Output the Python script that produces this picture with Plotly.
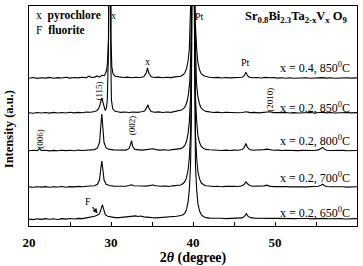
import plotly.graph_objects as go

# ---------------- data (2theta in degrees, intensity in a.u.) ----------------
sample_labels = ["x = 0.4, 850<sup>0</sup>C", "x = 0.2, 850<sup>0</sup>C", "x = 0.2, 800<sup>0</sup>C",
                 "x = 0.2, 700<sup>0</sup>C", "x = 0.2, 650<sup>0</sup>C"]
stack_offsets = [150, 114.5, 76, 39, 6.5]

two_theta_A = [20, 20.5, 21, 21.5, 22, 22.5, 23, 23.5, 24, 24.5, 25, 25.5, 26, 26.5, 27, 27.3, 27.6, 28, 28.3, 28.6,
               28.9, 29.2, 29.45, 29.55, 29.7, 29.78, 29.92, 30.0, 30.1, 30.25, 30.5, 31, 31.5, 32, 32.5, 33, 33.5,
               34, 34.3, 34.45, 34.6, 34.9, 35.3, 35.8, 36.3, 36.8, 37.3, 37.8, 38.2, 38.5, 38.8, 39, 39.2, 39.4,
               39.55, 39.7, 39.8, 39.87, 39.9, 40.1, 40.13, 40.2, 40.3, 40.45, 40.6, 40.8, 41, 41.3, 41.6, 42, 42.5,
               43, 43.5, 44, 44.5, 45, 45.5, 46, 46.25, 46.45, 46.65, 46.9, 47.3, 47.8, 48.3, 48.8, 49.3, 49.8, 50.3,
               50.8, 51.3, 51.8, 52.3, 52.8, 53.3, 53.8, 54.3, 54.8, 55.3, 55.8, 56.3, 56.8, 57.3, 57.8, 58.3, 58.8,
               59.3, 59.8, 60]
intensity_A = [0.5, 1.2, 0.3, 1, 0.6, 1.3, 0.4, 1.1, 0.7, 1.4, 0.6, 1.2, 0.8, 1.5, 1, 2.5, 1.2, 1.6, 2.8, 1.5,
               3.5, 3, 8, 14, 40, 300, 300, 40, 12, 5, 2.5, 1.8, 1.2, 1.6, 1, 1.4, 1.2,
               2, 6, 11, 6, 2, 1.2, 1.6, 1, 1.5, 1.1, 1.8, 2, 2.5, 4, 6, 10, 18,
               30, 55, 100, 250, 600, 600, 250, 100, 55, 30, 16, 9, 5, 3, 2, 1.5, 1,
               1.3, 0.7, 1.2, 0.8, 1.1, 0.9, 1.4, 3, 6.5, 3, 1.3, 0.9, 1.2, 0.7, 1.3, 0.9, 1.2, 0.6,
               1, 0.5, 0.9, 0.4, 0.8, 0.5, 0.9, 0.4, 0.8, 0.5, 1.1, 0.6, 0.9, 0.4, 0.8, 0.5, 1,
               0.6, 1.2, 0.8]

two_theta_B = [20, 20.5, 21, 21.5, 22, 22.5, 23, 23.5, 24, 24.5, 25, 25.5, 26, 26.5, 27, 27.5, 28, 28.3, 28.55,
               28.75, 28.88, 29.0, 29.15, 29.3, 29.45, 29.55, 29.68, 29.75, 29.9, 29.97, 30.05, 30.2, 30.45, 30.8,
               31.2, 31.7, 32.2, 32.7, 33.2, 33.7, 34.1, 34.35, 34.5, 34.65, 34.9, 35.3, 35.8, 36.3, 36.8, 37.3,
               37.8, 38.3, 38.6, 38.9, 39.1, 39.3, 39.45, 39.6, 39.72, 39.82, 39.88, 39.9, 40.1, 40.12, 40.18, 40.28,
               40.42, 40.58, 40.78, 41, 41.3, 41.6, 42, 42.5, 43, 43.5, 44, 44.5, 45, 45.5, 46, 46.5, 47, 47.5, 48,
               48.5, 49, 49.4, 49.8, 50.3, 50.8, 51.3, 51.8, 52.3, 52.8, 53.3, 53.8, 54.3, 54.8, 55.3, 55.8, 56.3,
               56.8, 57.3, 57.8, 58.3, 58.8, 59.3, 59.8, 60]
intensity_B = [0.8, 0.3, 1.1, 0.5, 1, 0.4, 1.2, 0.6, 1, 0.5, 1.3, 0.7, 1.2, 0.8, 1.5, 1.3, 2, 3, 6,
               12, 16, 12, 6, 3, 6, 14, 60, 400, 400, 60, 14, 5, 2.5, 1.8,
               1.2, 1.6, 1.1, 1.5, 1.2, 1.8, 2.5, 6, 9, 5, 2, 1.3, 1.7, 1.1, 1.6, 1.2,
               1.9, 2.4, 3.5, 5.5, 8, 13, 20, 32, 58, 110, 260, 600, 600, 260, 110, 58,
               32, 18, 10, 5.5, 3.2, 2.2, 1.6, 1.1, 1.4, 0.8, 1.3, 0.9, 1.2, 0.8, 1.1, 1.8, 0.9, 1.2, 0.7,
               1.1, 0.8, 1.8, 0.9, 1.1, 0.6, 1, 0.5, 0.9, 0.5, 0.9, 0.6, 1, 0.5, 0.9, 1.3, 0.7,
               1, 0.5, 0.9, 0.6, 1, 0.7, 1.1, 0.9]

two_theta_C = [20, 20.5, 21, 21.3, 21.5, 22, 22.5, 23, 23.5, 24, 24.5, 25, 25.5, 26, 26.5, 27, 27.5, 28, 28.35,
               28.6, 28.75, 28.88, 29.0, 29.15, 29.4, 29.8, 30.3, 30.8, 31.3, 31.8, 32.15, 32.35, 32.5, 32.65, 32.9,
               33.3, 33.8, 34.3, 34.8, 35.1, 35.5, 36, 36.5, 37, 37.5, 38, 38.5, 38.8, 39, 39.2, 39.4, 39.55, 39.7,
               39.8, 39.87, 39.9, 40.1, 40.13, 40.2, 40.3, 40.45, 40.6, 40.8, 41, 41.3, 41.6, 42, 42.5, 43, 43.5,
               44, 44.5, 45, 45.5, 46, 46.25, 46.45, 46.65, 46.9, 47.3, 47.8, 48.3, 48.7, 49, 49.3, 49.8, 50.3, 50.8,
               51.3, 51.8, 52.3, 52.8, 53.3, 53.8, 54.3, 54.8, 55.3, 55.6, 55.8, 56, 56.3, 56.8, 57.3, 57.8, 58.3,
               58.8, 59.3, 59.8, 60]
intensity_C = [0.6, 1.1, 0.8, 2.8, 0.9, 1.2, 0.5, 1, 0.6, 1.2, 0.7, 1.1, 0.6, 1.3, 0.9, 1.4, 1.2, 1.8, 3.5,
               9, 25, 38, 25, 9, 3.5, 2, 1.5, 1.2, 1.6, 1.3, 2.5, 6, 11, 5, 2,
               1.4, 1.3, 1.8, 2.2, 2.6, 1.8, 1.3, 1.7, 1.2, 1.8, 2, 2.8, 4.2, 6, 10, 18, 30, 55,
               100, 250, 600, 600, 250, 100, 55, 30, 16, 9, 5, 3, 2, 1.6, 1.2, 1.5, 0.9,
               1.3, 0.9, 1.3, 1.1, 1.8, 4, 8, 4, 1.8, 1.2, 1.4, 1.2, 1.8, 2.3, 1.6, 1.1, 1.3, 0.8,
               1.2, 0.8, 1.1, 0.7, 1, 0.8, 1.1, 0.9, 1.5, 2.8, 4, 2.5, 1.2, 0.9, 1.1, 0.7, 1,
               0.6, 1, 0.7, 0.9]

two_theta_D = [20, 20.5, 21, 21.5, 22, 22.5, 23, 23.5, 24, 24.5, 25, 25.5, 26, 26.5, 27, 27.5, 28, 28.35, 28.6,
               28.75, 28.88, 29.0, 29.15, 29.4, 29.8, 30.3, 30.8, 31.3, 31.8, 32.2, 32.5, 32.8, 33.3, 33.8, 34.3,
               34.8, 35.1, 35.5, 36, 36.5, 37, 37.5, 38, 38.5, 38.8, 39, 39.2, 39.4, 39.55, 39.7, 39.8, 39.87, 39.9,
               40.1, 40.13, 40.2, 40.3, 40.45, 40.6, 40.8, 41, 41.3, 41.6, 42, 42.5, 43, 43.5, 44, 44.5, 45, 45.5,
               46, 46.25, 46.45, 46.65, 46.9, 47.3, 47.8, 48.3, 48.7, 49, 49.3, 49.8, 50.3, 50.8, 51.3, 51.8, 52.3,
               52.8, 53.3, 53.8, 54.3, 54.8, 55.3, 55.6, 55.8, 56, 56.3, 56.8, 57.3, 57.8, 58.3, 58.8, 59.3, 59.8, 60]
intensity_D = [0.8, 0.4, 1, 0.6, 1.1, 0.5, 1, 0.7, 1.2, 0.5, 1.1, 0.8, 1.3, 0.9, 1.4, 1.4, 1.9, 3.5, 8,
               19, 27, 19, 8, 3.5, 2.2, 1.6, 1.4, 1.7, 1.5, 2.2, 3, 2, 1.5, 1.7, 1.6,
               2.2, 2.8, 1.9, 1.4, 1.7, 1.3, 1.9, 2.1, 2.8, 4.3, 6.2, 10, 18, 30, 55, 100, 250, 600,
               600, 250, 100, 55, 30, 16, 9, 5, 3, 2, 1.7, 1.2, 1.5, 1, 1.3, 1, 1.3, 1.2,
               1.9, 3.5, 6, 4, 2.2, 1.4, 1.6, 1.3, 1.9, 2.6, 1.6, 1.1, 1.3, 0.9, 1.2, 0.8, 1.1,
               0.8, 1, 0.8, 1.1, 1, 1.4, 2.6, 3.6, 2.3, 1.2, 0.9, 1.1, 0.7, 1, 0.6, 1, 0.8, 0.9]

two_theta_E = [20, 20.5, 21, 21.5, 22, 22.5, 23, 23.5, 24, 24.5, 25, 25.5, 26, 26.5, 27, 27.5, 28, 28.3, 28.6,
               28.8, 28.95, 29.1, 29.3, 29.6, 30, 30.5, 31, 31.5, 32, 32.5, 33, 33.3, 33.6, 34, 34.5, 35, 35.5, 36,
               36.5, 37, 37.5, 38, 38.5, 38.8, 39, 39.2, 39.4, 39.55, 39.7, 39.8, 39.87, 39.9, 40.1, 40.13, 40.2,
               40.3, 40.45, 40.6, 40.8, 41, 41.3, 41.6, 42, 42.5, 43, 43.5, 44, 44.5, 45, 45.5, 46, 46.3, 46.5,
               46.7, 47, 47.5, 48, 48.5, 49, 49.5, 50, 50.5, 51, 51.5, 52, 52.5, 53, 53.5, 54, 54.5, 55, 55.5, 56,
               56.5, 57, 57.5, 58, 58.5, 59, 59.5, 60]
intensity_E = [0.5, 0, 0.8, 0.3, 1, 0.4, 0.9, 0.2, 1, 0.5, 1.2, 0.6, 1.3, 1, 1.8, 2.5, 3.5, 4.5, 6,
               11, 15, 11, 5, 3.5, 2.5, 2, 2, 2.3, 2.8, 3.2, 3.8, 3.2, 3.6, 2.8, 2.2, 2, 1.8, 2,
               2.2, 2.5, 3, 3.4, 4.2, 5, 6.5, 10, 18, 30, 55, 100, 250, 600, 600, 250, 100,
               55, 30, 16, 9, 5, 3, 2, 1.5, 1.6, 1.2, 1.4, 1, 1.3, 1, 1.2, 1.8, 3.5, 6,
               3.5, 2, 1.5, 1.4, 1.8, 1.5, 1.2, 1.5, 1, 1.3, 0.9, 1.3, 1, 1.2, 0.8, 1.1, 0.8, 1.2, 1, 1.3,
               0.9, 1.1, 0.8, 1, 0.7, 1, 0.8, 1]

x_ticks = [20, 30, 40, 50, 60]

# ---------------- figure ----------------
two_theta_all = [two_theta_A, two_theta_B, two_theta_C, two_theta_D, two_theta_E]
intensity_all = [intensity_A, intensity_B, intensity_C, intensity_D, intensity_E]

SERIF = "Liberation Serif, Times New Roman, serif"

fig = go.Figure()
for tt, inten, off in zip(two_theta_all, intensity_all, stack_offsets):
    fig.add_trace(go.Scatter(x=tt, y=[v + off for v in inten], mode="lines",
                             line=dict(color="black", width=1.1), showlegend=False,
                             hoverinfo="skip"))

annotations = []
label_y = [161, 121, 87, 49, 14]
for lab, ly in zip(sample_labels, label_y):
    annotations.append(dict(x=59.4, y=ly, xref="x", yref="y", text=lab, showarrow=False,
                            xanchor="right", yanchor="middle",
                            font=dict(family=SERIF, size=12, color="black")))

# title formula
annotations.append(dict(x=59.2, y=213, xref="x", yref="y", xanchor="right", yanchor="middle",
                        text="<b>Sr<sub>0.8</sub>Bi<sub>2.3</sub>Ta<sub>2-x</sub>V<sub>x</sub> O<sub>9</sub></b>",
                        showarrow=False, font=dict(family=SERIF, size=12.5, color="black")))
# phase key
annotations.append(dict(x=20.6, y=214, xref="x", yref="y", xanchor="left", yanchor="middle",
                        text="x  <b>pyrochlore</b>", showarrow=False,
                        font=dict(family=SERIF, size=11.5, color="black")))
annotations.append(dict(x=20.6, y=200, xref="x", yref="y", xanchor="left", yanchor="middle",
                        text="F  <b>fluorite</b>", showarrow=False,
                        font=dict(family=SERIF, size=11.5, color="black")))

small = dict(family=SERIF, size=10, color="black")
peak_marks = [("x", 30.25, 214, 0), ("x", 34.4, 168, 0), ("Pt", 40.85, 213, 0), ("Pt", 46.45, 166, 0),
              ("(115)", 28.55, 137, -90), ("(2010)", 49.45, 129, -90), ("(006)", 21.35, 89, -90),
              ("(002)", 32.5, 102, -90)]
for txt, px, py, ang in peak_marks:
    annotations.append(dict(x=px, y=py, xref="x", yref="y", text=txt, showarrow=False,
                            textangle=ang, xanchor="center", yanchor="middle",
                            font=dict(family=SERIF, size=9 if ang else 10, color="black")))

annotations.append(dict(x=28.35, y=13, xref="x", yref="y", ax=27.2, ay=25, axref="x", ayref="y",
                        text="F", showarrow=True, arrowhead=2, arrowsize=0.8, arrowwidth=1.2,
                        arrowcolor="black", font=small))

annotations.append(dict(x=-0.061, y=0.44, xref="paper", yref="paper", text="<b>Intensity (a.u.)</b>",
                        textangle=-90, showarrow=False, xanchor="center", yanchor="middle",
                        font=dict(family=SERIF, size=12.5, color="black")))

fig.update_layout(
    width=363, height=266,
    margin=dict(l=29, r=6, t=5, b=37),
    paper_bgcolor="white", plot_bgcolor="white",
    annotations=annotations,
    xaxis=dict(range=[20, 60], tickvals=x_ticks, ticktext=[f"<b>{v}</b>" for v in x_ticks],
               ticks="inside", ticklen=4, tickwidth=1, tickcolor="black",
               minor=dict(dtick=5, tick0=20, ticks="inside", ticklen=4, tickcolor="black"),
               showline=True, linecolor="black", linewidth=1.2, mirror=True, showgrid=False,
               zeroline=False, tickfont=dict(family=SERIF, size=13, color="black"),
               ticklabelstandoff=4,
               title=dict(text="<b>2<i>θ</i> (degree)</b>", standoff=1,
                          font=dict(family=SERIF, size=14, color="black"))),
    yaxis=dict(range=[0, 224], showticklabels=False, ticks="", showline=True, linecolor="black",
               linewidth=1.2, mirror=True, showgrid=False, zeroline=False),
)

fig.write_html("out.html")
